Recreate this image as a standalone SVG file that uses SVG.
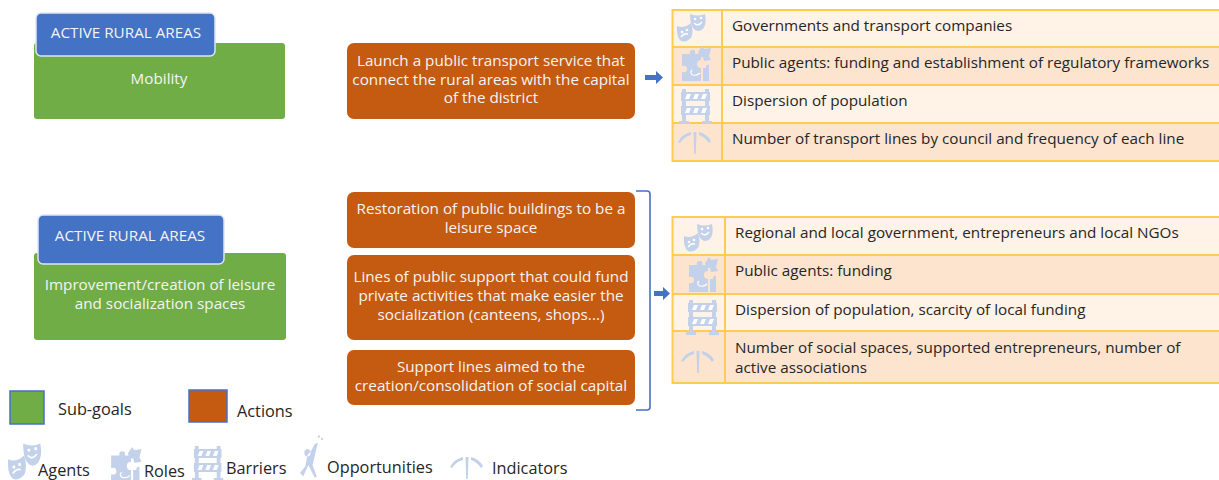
<svg xmlns="http://www.w3.org/2000/svg" width="1219" height="480" viewBox="0 0 1219 480">
<style>
text{font-family:"Open Sans","Noto Sans","Liberation Sans",sans-serif;font-size:15.25px}
.w{fill:#f4f4f4;text-anchor:middle}
.d{fill:#262626}
.leg{font-size:16.3px}
.g{fill:#70ad47}
.b{fill:#4472c4;stroke:#dfe5f2;stroke-width:1.5}
.o{fill:#c55a11}
.l1{fill:#fff2e6}
.l2{fill:#fce4cf}
.grid{fill:none;stroke:#ffcb52;stroke-width:2}
.ic{fill:#c3d2ea}
.wl{stroke:#fff;fill:none}
</style>
<defs>
<g id="masks">
<path class="ic" d="M14 2Q22 5 29 2Q31 12 27 17Q22 21 18 17Q14 13 14 2Z"/>
<path class="ic" d="M1 14Q8 17 15 11Q18 20 15 26Q10 31 5 29Q0 25 1 14Z"/>
<path class="wl" stroke-width="1.4" d="M18 11Q22 15 26 10M5 25Q8 21 12 22"/>
<circle cx="19" cy="7" r="1.3" fill="#fff"/><circle cx="25" cy="6" r="1.3" fill="#fff"/><circle cx="6" cy="20" r="1.3" fill="#fff"/><circle cx="11" cy="18" r="1.3" fill="#fff"/>
</g>
<g id="puzzle">
<path class="ic" d="M2 8H10Q9 4 13 4Q16 4 15 8H21V14Q17 14 17 18Q17 22 21 22V35H2V26Q7 27 7 23Q7 19 2 20Z"/>
<path class="ic" d="M18 6L22 0L24 3L31 2L29 10L31 14L24 15L23 11Q19 11 18 6Z"/>
<path class="ic" d="M23 22H26Q26 18 29 19V35H23Z"/>
<path class="wl" stroke-width="1.2" d="M12 24Q9 27 13 29Q17 30 20 27"/>
</g>
<g id="barrier">
<path class="ic" d="M3 2H7V34H10V37H0V34H3ZM26 2H30V34H33V37H23V34H26Z"/>
<path class="ic" d="M2 5H31V14H2ZM2 19H31V28H2Z"/>
<path fill="#fff" d="M8 7H12L10 12H6ZM16 7H20L18 12H14ZM24 7H28L26 12H22ZM8 21H12L10 26H6ZM16 21H20L18 26H14ZM24 21H28L26 26H22Z"/>
</g>
<g id="ind">
<path class="ic" d="M15.500 2H18.500L17.800 24H16.200ZM0 12Q4 4 13 2L13 5Q7 6 2 13ZM21 2Q29 4 33 11L31 13Q27 7 21 5Z"/>
</g>
<g id="opp">
<path class="ic" d="M14 8L17 7L15 14L12 25L16 34L14 35L8 25L3 34L0 31L5 26L7 17L11 13ZM7 12a3 3 0 1 0 .1 0Z"/>
<circle class="ic" cx="18" cy="2" r="1"/><circle class="ic" cx="21" cy="4" r="1"/>
</g>
</defs>

<g id="connectors">
<path d="M636 191H647Q650 191 650 194V407Q650 410 647 410H636" fill="none" stroke="#4472c4" stroke-width="1.6"/>
<path d="M645 75H656V71L663 77.500L656 84V80H645Z" fill="#4472c4"/>
<path d="M654 291H663V287L670 293.500L663 300V296H654Z" fill="#4472c4"/>
</g>

<g id="goal1">
<rect class="g" x="34" y="43" width="251" height="76" rx="3"/>
<rect class="b" x="36" y="13" width="179" height="43" rx="5"/>
<text class="w" x="126" y="38">ACTIVE RURAL AREAS</text>
<text class="w" x="159" y="84">Mobility</text>
</g>
<g id="goal2">
<rect class="g" x="34" y="253" width="252" height="87" rx="3"/>
<rect class="b" x="38" y="215" width="186" height="49" rx="5"/>
<text class="w" x="130" y="241">ACTIVE RURAL AREAS</text>
<text class="w" x="160" y="290">Improvement/creation of leisure</text>
<text class="w" x="160" y="309">and socialization spaces</text>
</g>

<g id="action1">
<rect class="o" x="347" y="43" width="288" height="76" rx="7"/>
<text class="w" x="491" y="66">Launch a public transport service that</text>
<text class="w" x="491" y="85">connect the rural areas with the capital</text>
<text class="w" x="491" y="103">of the district</text>
</g>
<g id="action2">
<rect class="o" x="347" y="192" width="288" height="56" rx="7"/>
<text class="w" x="491" y="214">Restoration of public buildings to be a</text>
<text class="w" x="491" y="233">leisure space</text>
</g>
<g id="action3">
<rect class="o" x="347" y="255" width="288" height="85" rx="7"/>
<text class="w" x="491" y="282">Lines of public support that could fund</text>
<text class="w" x="491" y="301">private activities that make easier the</text>
<text class="w" x="491" y="320">socialization (canteens, shops...)</text>
</g>
<g id="action4">
<rect class="o" x="347" y="350" width="288" height="55" rx="7"/>
<text class="w" x="491" y="372">Support lines aimed to the</text>
<text class="w" x="491" y="391">creation/consolidation of social capital</text>
</g>

<g id="table1">
<rect class="l1" x="672" y="10" width="547" height="37"/>
<rect class="l2" x="672" y="47" width="547" height="38"/>
<rect class="l1" x="672" y="85" width="547" height="38"/>
<rect class="l2" x="672" y="123" width="547" height="38"/>
<path class="grid" d="M1220 10H672.500V161H1220M1220 47H672.500M1220 85H672.500M1220 123H672.500M722 10V161"/>
<use href="#masks" x="676" y="12"/>
<use href="#puzzle" x="680" y="46"/>
<use href="#barrier" x="679" y="87"/>
<use href="#ind" x="678" y="130"/>
<text class="d" x="732" y="31">Governments and transport companies</text>
<text class="d" x="732" y="68">Public agents: funding and establishment of regulatory frameworks</text>
<text class="d" x="732" y="106">Dispersion of population</text>
<text class="d" x="732" y="144">Number of transport lines by council and frequency of each line</text>
</g>

<g id="table2">
<rect class="l1" x="672" y="217" width="547" height="38"/>
<rect class="l2" x="672" y="255" width="547" height="39"/>
<rect class="l1" x="672" y="294" width="547" height="37"/>
<rect class="l2" x="672" y="331" width="547" height="52"/>
<path class="grid" d="M1220 217H672.500V383H1220M1220 255H672.500M1220 294H672.500M1220 331H672.500M725 217V383"/>
<use href="#masks" x="683" y="222"/>
<use href="#puzzle" x="687" y="257"/>
<use href="#barrier" x="686" y="298"/>
<use href="#ind" x="681" y="349"/>
<text class="d" x="735" y="238">Regional and local government, entrepreneurs and local NGOs</text>
<text class="d" x="735" y="276">Public agents: funding</text>
<text class="d" x="735" y="315">Dispersion of population, scarcity of local funding</text>
<text class="d" x="735" y="353">Number of social spaces, supported entrepreneurs, number of</text>
<text class="d" x="735" y="373">active associations</text>
</g>

<g id="legend">
<rect x="10" y="391" width="34" height="33" fill="#70ad47" stroke="#4472c4" stroke-width="1.5"/>
<text class="d leg" x="58" y="415">Sub-goals</text>
<rect x="189" y="390" width="38" height="32" fill="#c55a11" stroke="#4472c4" stroke-width="1.5"/>
<text class="d leg" x="237" y="417">Actions</text>
<use href="#masks" transform="translate(7 441) scale(1.15 1.3)"/>
<text class="d leg" x="38" y="476">Agents</text>
<use href="#puzzle" transform="translate(109 447) scale(1.05)"/>
<text class="d leg" x="144" y="477">Roles</text>
<use href="#barrier" transform="translate(192 444) scale(.95 1)"/>
<text class="d leg" x="226" y="474">Barriers</text>
<use href="#opp" transform="translate(300 434) scale(1.05 1.25)"/>
<text class="d leg" x="327" y="473">Opportunities</text>
<use href="#ind" x="450" y="455"/>
<text class="d leg" x="492" y="474">Indicators</text>
</g>
</svg>
